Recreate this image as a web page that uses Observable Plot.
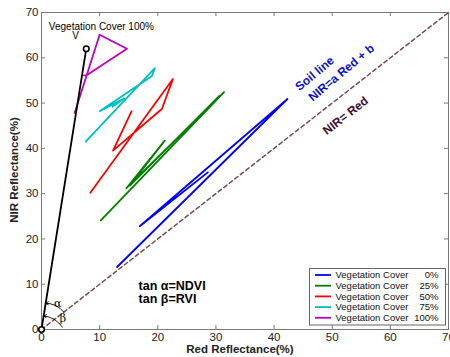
<!DOCTYPE html>
<html>
<head>
<meta charset="utf-8">
<script src="https://cdn.jsdelivr.net/npm/d3@7"></script>
<script src="https://cdn.jsdelivr.net/npm/@observablehq/plot@0.6"></script>
<style>
  html, body { margin: 0; padding: 0; background: #fff; }
  #chart { position: relative; width: 450px; height: 357px; }
  #chart svg { font-family: "Liberation Sans", Arial, sans-serif; }
</style>
</head>
<body>
<div id="chart"></div>
<script>
// ---- data ----
const covers = ["0%", "25%", "50%", "75%", "100%"];
const coverColors = ["#0000ff", "#007f00", "#ff0000", "#00bfbf", "#bf00bf"];

const red0   = [13.0, 42.3, 16.9, 28.6];
const nir0   = [13.8, 50.9, 22.8, 34.7];
const red25  = [10.2, 31.4, 14.6, 21.2, 15.2, 30.6];
const nir25  = [24.1, 52.4, 31.2, 41.7, 31.8, 51.6];
const red50  = [8.4, 22.6, 20.7, 12.3, 15.5];
const nir50  = [30.2, 55.3, 48.7, 39.5, 48.2];
const red75  = [7.6, 19.5, 19.0, 10.0, 14.2, 12.2];
const nir75  = [41.5, 57.7, 56.0, 48.2, 51.0, 49.2];
const red100 = [5.7, 10.0, 14.7, 7.7, 7.3];
const nir100 = [47.8, 65.1, 62.0, 56.1, 56.1];

const vegRed = [0, 7.7];   // origin -> point V
const vegNir = [0, 62];
const oneToOne = [0, 70];  // NIR = Red

const xTicks = [0, 10, 20, 30, 40, 50, 60, 70];
const yTicks = [0, 10, 20, 30, 40, 50, 60, 70];

// ---- table ----
const reds = [red0, red25, red50, red75, red100];
const nirs = [nir0, nir25, nir50, nir75, nir100];
const rows = [];
covers.forEach((c, i) => reds[i].forEach((r, j) => rows.push({cover: c, red: r, nir: nirs[i][j]})));
const vegRows = vegRed.map((r, i) => ({red: r, nir: vegNir[i]}));
const diagRows = oneToOne.map(v => ({red: v, nir: v}));

// annotations (data coordinates)
const arcs = [
  {x1: 3.8, y1: 3.9, x2: 0.72, y2: 5.8},
  {x1: 3.6, y1: 0.5, x2: 0.38, y2: 3.0}
];
const greek = [{x: 2.8, y: 5.8, t: "α"}, {x: 3.7, y: 2.5, t: "β"}];

const W = 450, H = 357;
const ml = 41, mr = 2, mt = 12, mb = 28;
const iw = W - ml - mr, ih = H - mt - mb;
const tl = 4;

const plot = Plot.plot({
  width: W, height: H,
  marginLeft: ml, marginRight: mr, marginTop: mt, marginBottom: mb,
  style: {fontFamily: "Liberation Sans, Arial, sans-serif", fontSize: "11px", color: "#222", background: "#fff", overflow: "hidden"},
  x: {domain: [0, 70], ticks: xTicks, label: null},
  y: {domain: [0, 70], ticks: yTicks, label: null},
  color: {domain: covers, range: coverColors},
  marks: [
    Plot.frame({stroke: "#7a7a7a"}),
    Plot.tickX(xTicks, {x: d => d, insetTop: ih - tl, stroke: "#7a7a7a"}),
    Plot.tickX(xTicks, {x: d => d, insetBottom: ih - tl, stroke: "#7a7a7a"}),
    Plot.tickY(yTicks, {y: d => d, insetRight: iw - tl, stroke: "#7a7a7a"}),
    Plot.tickY(yTicks, {y: d => d, insetLeft: iw - tl, stroke: "#7a7a7a"}),
    Plot.axisX(xTicks, {tickSize: 0, tickPadding: 3, fontSize: 11.5, fill: "#222", label: null}),
    Plot.axisY(yTicks, {tickSize: 0, tickPadding: 3, fontSize: 11.5, fill: "#222", label: null}),
    Plot.line(diagRows, {x: "red", y: "nir", stroke: "#7a4a52", strokeWidth: 1.5, strokeDasharray: "4,3"}),
    Plot.line(rows, {x: "red", y: "nir", z: "cover", stroke: "cover", strokeWidth: 1.8}),
    Plot.line(vegRows, {x: "red", y: "nir", stroke: "#000", strokeWidth: 1.8}),
    Plot.dot(vegRows, {x: "red", y: "nir", r: 2.8, stroke: "#000", fill: "#fff", strokeWidth: 1.6}),
    Plot.arrow(arcs, {x1: "x1", y1: "y1", x2: "x2", y2: "y2", bend: -25, stroke: "#000", strokeWidth: 0.9, headLength: 5}),
    Plot.text(greek, {x: "x", y: "y", text: "t", fontSize: 11, fontFamily: "DejaVu Serif, serif", fill: "#000"}),
    Plot.text(["Vegetation Cover 100%"], {x: 10.3, y: 66.9, text: d => d, fontSize: 10, fill: "#000"}),
    Plot.text(["V"], {x: 5.85, y: 64.8, text: d => d, fontSize: 10, fill: "#000"}),
    Plot.text(["Soil line"], {x: 47.0, y: 56.5, text: d => d, rotate: -40, fontSize: 12, fontWeight: "bold", fill: "#1010d0"}),
    Plot.text(["NIR=a Red + b"], {x: 51.6, y: 56.7, text: d => d, rotate: -40, fontSize: 12, fontWeight: "bold", fill: "#1010d0"}),
    Plot.text(["NIR= Red"], {x: 52.3, y: 47.2, text: d => d, rotate: -38, fontSize: 12, fontWeight: "bold", fill: "#3a1034"}),
    Plot.text(["tan α=NDVI", "tan β=RVI"], {x: 16.7, y: (d, i) => i ? 6.8 : 9.7, text: d => d, textAnchor: "start", fontSize: 12.5, fontWeight: "bold", fill: "#000"})
  ]
});

const root = document.getElementById("chart");
root.appendChild(plot);

const svg = d3.select(plot);
// axis titles
svg.append("text").attr("x", 240).attr("y", 353)
  .attr("text-anchor", "middle").attr("font-weight", "bold").attr("font-size", 11.5).attr("fill", "#222")
  .text("Red Reflectance(%)");
svg.append("text").attr("transform", "translate(18,170) rotate(-90)")
  .attr("text-anchor", "middle").attr("font-weight", "bold").attr("font-size", 11.5).attr("fill", "#222")
  .text("NIR Reflectance(%)");

// legend
const lg = svg.append("g");
lg.append("rect").attr("x", 309.5).attr("y", 268.5).attr("width", 136).attr("height", 56.5)
  .attr("fill", "#fff").attr("stroke", "#666");
covers.forEach((c, i) => {
  const y = 275 + i * 10.7;
  lg.append("line").attr("x1", 315).attr("x2", 331).attr("y1", y).attr("y2", y)
    .attr("stroke", coverColors[i]).attr("stroke-width", 1.8);
  lg.append("text").attr("x", 335.5).attr("y", y).attr("dy", "0.35em").attr("text-anchor", "start")
    .attr("font-size", 9.5).attr("fill", "#111").text("Vegetation Cover");
  lg.append("text").attr("x", 438.5).attr("y", y).attr("dy", "0.35em").attr("text-anchor", "end")
    .attr("font-size", 9.5).attr("fill", "#111").text(c);
});
</script>
</body>
</html>
